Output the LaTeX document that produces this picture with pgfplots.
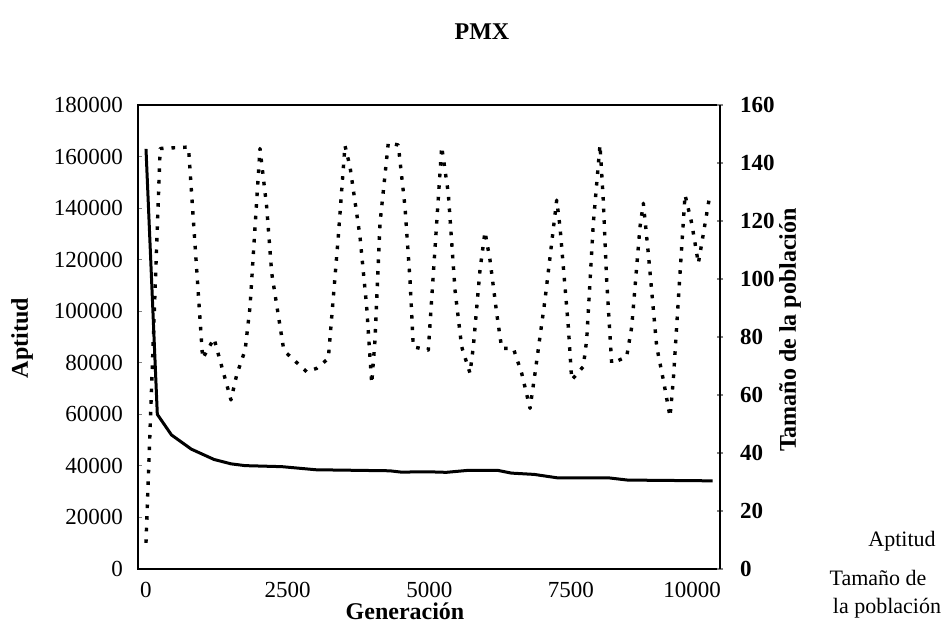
\documentclass[border=0pt]{standalone}
\usepackage{fontspec}
\setmainfont{Liberation Serif}
\usepackage{pgfplots}
\pgfplotsset{compat=1.18}
\pgfplotstableread{
gen val
0 163000
200 60000
450 52000
800 46500
1200 42500
1500 40800
1750 40100
2400 39700
3000 38500
4300 38100
4500 37600
5000 37700
5300 37500
5700 38300
6200 38300
6450 37200
6850 36700
7250 35400
8150 35400
8500 34500
10000 34200
}\aptitud
\pgfplotstableread{
gen val
0 9
250 145
750 145.5
1000 72.6
1100 76
1200 79.5
1500 58.3
1600 66.9
1750 75.5
1836 90.4
2012 145
2130 124.9
2219 102
2423 76.6
2483 74.4
2836 68
3013 69.2
3218 72.6
3394 114.6
3512 146
3601 138.7
3777 114.6
3895 90.4
3984 64
4042 79
4130 119.2
4277 147
4453 146.2
4571 124.9
4660 99.6
4718 76.6
4983 75.5
5219 145.6
5336 129.5
5454 96.2
5572 76.6
5719 67.5
5777 76.6
5895 103.1
5983 116.3
6072 106.5
6190 88.2
6278 76.1
6483 76.1
6631 67.5
6778 55.4
6866 67.5
7042 92.8
7249 127.2
7307 118
7454 83.5
7514 65.2
7718 69.8
7778 79
7895 119.2
8013 146.2
8071 127.2
8131 99.6
8219 70.9
8484 73.2
8573 83.5
8719 118
8778 126.1
8866 108.8
9014 76.6
9131 65.2
9249 52.5
9307 65.2
9425 101.9
9514 129
9632 119.2
9749 105.4
9838 115.7
9956 129.5
}\poblacion
\begin{document}
\begin{tikzpicture}[x=1pt,y=1pt]
\useasboundingbox (0,0) rectangle (475,-316.5);
\begin{axis}[
  at={(69pt,-284.5pt)}, anchor=south west,
  scale only axis, width=291pt, height=232pt,
  xmin=-141, xmax=10131, ymin=0, ymax=180000,
  axis line style={line width=1pt},
  xtick={0,2500,5000,7500,9640}, xticklabels={0,2500,5000,7500,10000},
  x tick style={draw=none},
  ytick={0,20000,...,180000},
  ytick pos=left, tick align=inside, major tick length=2pt,
  y tick style={line width=0.6pt},
  scaled y ticks=false, scaled x ticks=false,
  /pgf/number format/assume math mode=true,
  yticklabel style={/pgf/number format/fixed, /pgf/number format/1000 sep={}, xshift=-4pt},
  xticklabel style={yshift=-3pt},
  tick label style={font=\fontsize{11.5}{13}\selectfont},
]
\addplot[black, line width=1.5pt, line join=round] table[x=gen,y=val] {\aptitud};
\end{axis}
\begin{axis}[
  at={(69pt,-284.5pt)}, anchor=south west,
  scale only axis, width=291pt, height=232pt,
  xmin=-141, xmax=10131, ymin=0, ymax=160,
  axis x line=none, axis y line*=right,
  axis line style={line width=1.2pt},
  ytick={0,20,...,160},
  tick align=center, major tick length=3pt,
  y tick style={line width=0.6pt},
  /pgf/number format/assume math mode=true,
  yticklabel style={font=\bfseries\fontsize{11.5}{13}\selectfont, xshift=5pt},
]
\addplot[black, line width=1.7pt, line join=round, dash pattern=on 1.8pt off 4pt] table[x=gen,y=val] {\poblacion};
\end{axis}
\node[font=\bfseries\fontsize{12}{14}\selectfont] at (241,-16) {PMX};
\node[rotate=90, font=\bfseries\fontsize{12}{14}\selectfont] at (11,-169) {Aptitud};
\node[rotate=90, font=\bfseries\fontsize{12}{14}\selectfont] at (395,-165) {Tamaño de la población};
\node[font=\bfseries\fontsize{12}{14}\selectfont] at (202.5,-305.5) {Generación};
\node[font=\fontsize{11}{13}\selectfont] at (451,-270.5) {Aptitud};
\node[font=\fontsize{11}{13}\selectfont] at (439,-289) {Tamaño de};
\node[font=\fontsize{11}{13}\selectfont] at (443.5,-304) {la población};
\end{tikzpicture}
\end{document}
